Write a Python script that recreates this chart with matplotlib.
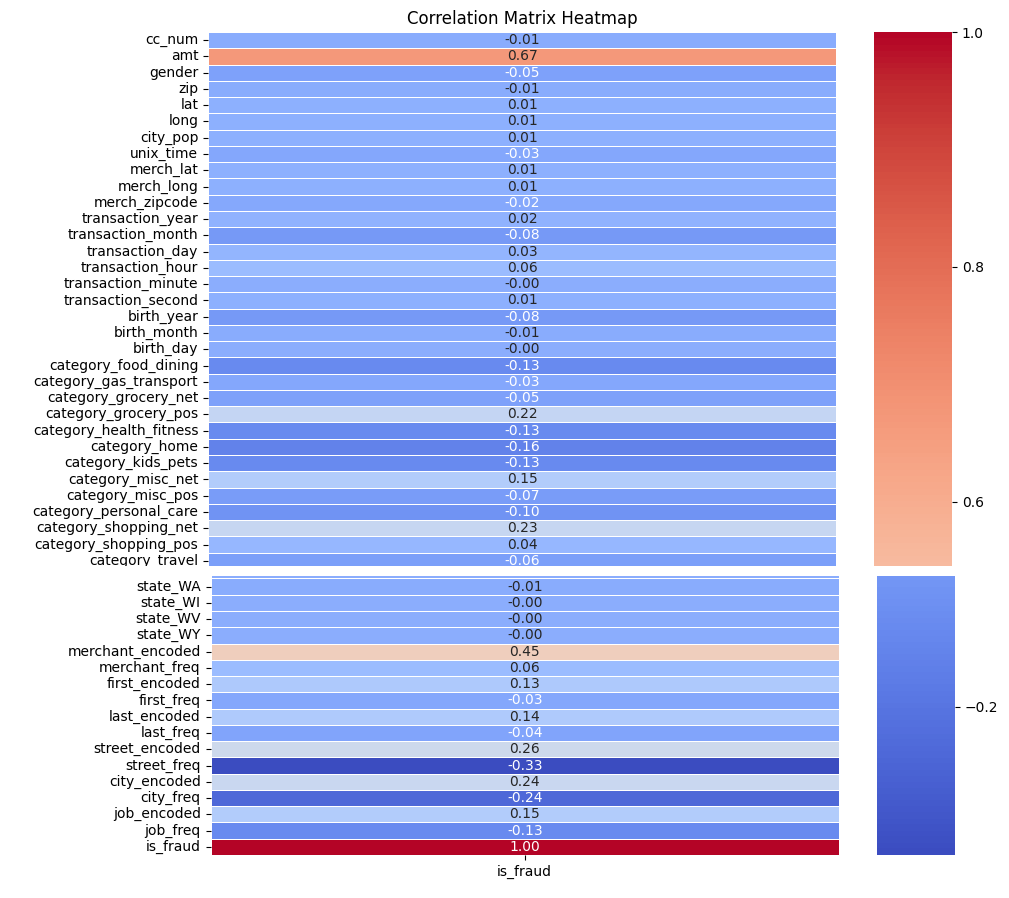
import numpy as np
import matplotlib
matplotlib.use("Agg")
import matplotlib.pyplot as plt
from matplotlib.patches import Rectangle
import seaborn as sns

# Correlation of every feature with is_fraud (upper block of the matrix)
top_labels = ["cc_num", "amt", "gender", "zip", "lat", "long", "city_pop", "unix_time",
              "merch_lat", "merch_long", "merch_zipcode", "transaction_year",
              "transaction_month", "transaction_day", "transaction_hour",
              "transaction_minute", "transaction_second", "birth_year", "birth_month",
              "birth_day", "category_food_dining", "category_gas_transport",
              "category_grocery_net", "category_grocery_pos", "category_health_fitness",
              "category_home", "category_kids_pets", "category_misc_net",
              "category_misc_pos", "category_personal_care", "category_shopping_net",
              "category_shopping_pos", "category_travel"]
top_values = [-0.006, 0.67, -0.05, -0.008, 0.01, 0.01, 0.01, -0.03,
              0.01, 0.01, -0.022, 0.02,
              -0.08, 0.03, 0.06,
              -0.002, 0.01, -0.08, -0.006,
              -0.003, -0.13, -0.03,
              -0.05, 0.22, -0.13,
              -0.16, -0.13, 0.15,
              -0.07, -0.10, 0.23,
              0.04, -0.06]

# lower block (state_VT only shows as a thin sliver at the cut)
bottom_labels = ["state_VT", "state_WA", "state_WI", "state_WV", "state_WY",
                 "merchant_encoded", "merchant_freq", "first_encoded", "first_freq",
                 "last_encoded", "last_freq", "street_encoded", "street_freq",
                 "city_encoded", "city_freq", "job_encoded", "job_freq", "is_fraud"]
bottom_values = [-0.002, -0.006, -0.003, -0.003, -0.003,
                 0.45, 0.06, 0.13, -0.03,
                 0.14, -0.04, 0.26, -0.326,
                 0.24, -0.24, 0.15, -0.13, 1.00]

col_labels = ["is_fraud"]

vmin = min(top_values + bottom_values)
vmax = max(top_values + bottom_values)
top_cut = 0.5455      # lowest value still visible on the upper colour bar
bottom_cut = -0.0888  # highest value visible on the lower colour bar

W, H = 1009, 898
fig = plt.figure(figsize=(W / 100, H / 100), dpi=100)

def px(x0, y0, x1, y1):
    return [x0 / W, 1 - y1 / H, (x1 - x0) / W, (y1 - y0) / H]

ax_top = fig.add_axes(px(208, 32, 836, 566))
ax_bot = fig.add_axes(px(210.5, 576, 839, 855))
cax_top = fig.add_axes(px(874, 32, 952, 566))
cax_bot = fig.add_axes(px(877, 576, 955, 855))

sns.heatmap(np.array(top_values).reshape(-1, 1), ax=ax_top, cmap="coolwarm",
            vmin=vmin, vmax=vmax, annot=True, fmt=".2f", linewidths=0.5,
            linecolor="white", cbar=False, xticklabels=False, yticklabels=top_labels)
sns.heatmap(np.array(bottom_values).reshape(-1, 1), ax=ax_bot, cmap="coolwarm",
            vmin=vmin, vmax=vmax, annot=True, fmt=".2f", linewidths=0.5,
            linecolor="white", cbar=False, xticklabels=col_labels, yticklabels=bottom_labels)

ax_top.set_title("Correlation Matrix Heatmap", fontsize=12)

# the picture is cut between the two blocks
ax_top.set_ylim(32.82, 0)
ax_bot.set_ylim(len(bottom_labels), 0.85)

for ax in (ax_top, ax_bot):
    plt.setp(ax.get_yticklabels(), rotation=0)
    for t in ax.texts:
        t.set_clip_on(True)

clip = Rectangle((0, 1 - 566 / H), 1, 566 / H, transform=fig.transFigure)
for lab in ax_top.get_yticklabels():
    lab.set_clip_path(clip)

# split colour bar
sm = plt.cm.ScalarMappable(cmap="coolwarm", norm=plt.Normalize(vmin=vmin, vmax=vmax))
cb_top = fig.colorbar(sm, cax=cax_top, boundaries=np.linspace(top_cut, vmax, 256),
                      ticks=[0.6, 0.8, 1.0])
cb_bot = fig.colorbar(sm, cax=cax_bot, boundaries=np.linspace(vmin, bottom_cut, 256),
                      ticks=[-0.2])
for cb in (cb_top, cb_bot):
    cb.outline.set_visible(False)

plt.savefig("out.png", dpi=100)
